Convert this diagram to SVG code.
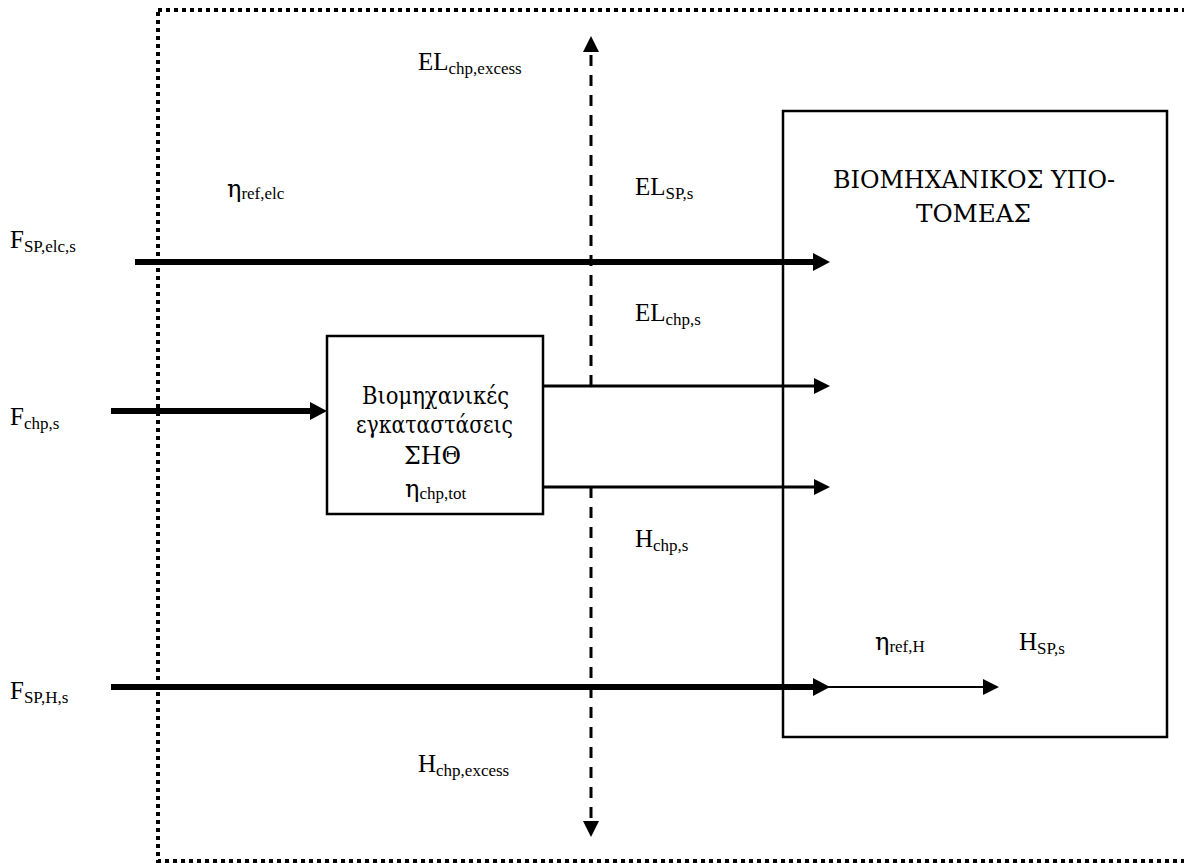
<svg xmlns="http://www.w3.org/2000/svg" width="1184" height="863" viewBox="0 0 1184 863">
<style>
text{font-family:"Liberation Serif","Times New Roman",serif;font-size:25px;fill:#000}
.sub{font-size:17px;font-family:"Liberation Serif","Times New Roman",serif}
.gr{font-family:"DejaVu Serif",serif;font-size:24px}
.eta{font-family:"DejaVu Serif",serif;font-size:24px}
.thick{stroke:#000;stroke-width:6;fill:none}
.mid{stroke:#000;stroke-width:3;fill:none}
.thin{stroke:#000;stroke-width:2;fill:none}
.dash{stroke:#000;stroke-width:3;stroke-dasharray:11 9;fill:none}
.box{fill:#fff;stroke:#000;stroke-width:2.5}
</style>
<defs>
<marker id="headThick" markerUnits="userSpaceOnUse" markerWidth="17" markerHeight="18" refX="0" refY="9" orient="auto"><path d="M0,0 L17,9 L0,18 z" fill="#000"/></marker>
<marker id="head" markerUnits="userSpaceOnUse" markerWidth="16" markerHeight="16" refX="0" refY="8" orient="auto"><path d="M0,0 L16,8 L0,16 z" fill="#000"/></marker>
</defs>
<rect id="boundary" x="158" y="10" width="1100" height="851" fill="none" stroke="#000" stroke-width="4" stroke-dasharray="4 4"/>
<g id="subsector">
<rect class="box" x="783" y="111" width="384" height="626"/>
<text class="gr" x="833" y="188" textLength="282" lengthAdjust="spacingAndGlyphs">ΒΙΟΜΗΧΑΝΙΚΟΣ ΥΠΟ-</text>
<text class="gr" x="916" y="222" textLength="115" lengthAdjust="spacingAndGlyphs">ΤΟΜΕΑΣ</text>
</g>
<g id="chp">
<rect class="box" x="327" y="336" width="216" height="178"/>
<text class="gr" x="362" y="404" textLength="147" lengthAdjust="spacingAndGlyphs">Βιομηχανικές</text>
<text class="gr" x="356" y="433" textLength="157" lengthAdjust="spacingAndGlyphs">εγκαταστάσεις</text>
<text class="gr" x="404" y="464" textLength="57" lengthAdjust="spacingAndGlyphs">ΣΗΘ</text>
<text x="405" y="497"><tspan class="eta">η</tspan><tspan class="sub" dy="2">chp,tot</tspan></text>
</g>
<g id="connectors">
<line class="thick" x1="135" y1="262" x2="813" y2="262" marker-end="url(#headThick)"/>
<line class="thick" x1="111" y1="411" x2="310" y2="411" marker-end="url(#headThick)"/>
<line class="thick" x1="111" y1="687" x2="813" y2="687" marker-end="url(#headThick)"/>
<line class="mid" x1="543" y1="386" x2="814" y2="386" marker-end="url(#head)"/>
<line class="mid" x1="543" y1="487" x2="814" y2="487" marker-end="url(#head)"/>
<line class="thin" x1="828" y1="687" x2="983" y2="687" marker-end="url(#head)"/>
<line class="dash" x1="591" y1="386" x2="591" y2="52" marker-end="url(#head)"/>
<line class="dash" x1="591" y1="487" x2="591" y2="821" marker-end="url(#head)"/>
</g>
<g id="labels">
<text x="418" y="70">EL<tspan class="sub" dy="4">chp,excess</tspan></text>
<text x="227" y="197"><tspan class="eta">η</tspan><tspan class="sub" dy="2">ref,elc</tspan></text>
<text x="635" y="195">EL<tspan class="sub" dy="4">SP,s</tspan></text>
<text x="10" y="248">F<tspan class="sub" dy="4">SP,elc,s</tspan></text>
<text x="635" y="321">EL<tspan class="sub" dy="4">chp,s</tspan></text>
<text x="10" y="425">F<tspan class="sub" dy="4">chp,s</tspan></text>
<text x="635" y="547">H<tspan class="sub" dy="4">chp,s</tspan></text>
<text x="875" y="650"><tspan class="eta">η</tspan><tspan class="sub" dy="2">ref,H</tspan></text>
<text x="1019" y="650">H<tspan class="sub" dy="4">SP,s</tspan></text>
<text x="10" y="699">F<tspan class="sub" dy="4">SP,H,s</tspan></text>
<text x="418" y="772">H<tspan class="sub" dy="4">chp,excess</tspan></text>
</g>
</svg>
